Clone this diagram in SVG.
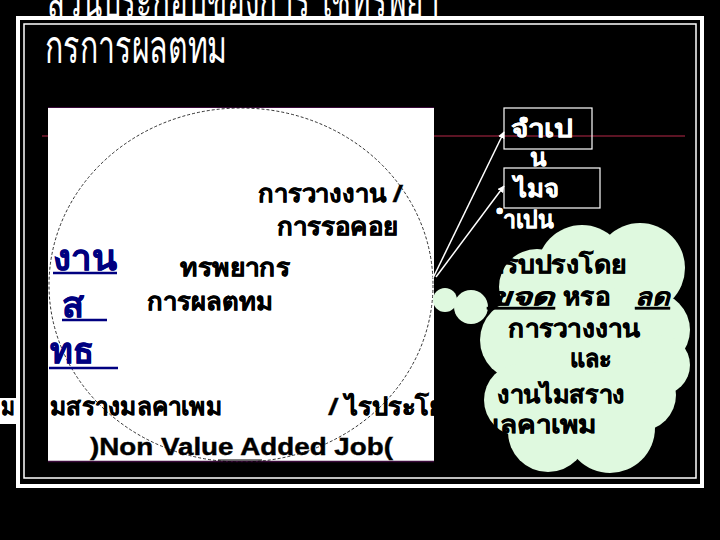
<svg xmlns="http://www.w3.org/2000/svg" width="720" height="540" viewBox="0 0 720 540">
<defs>
<style>
.th{font-family:"Noto Sans","DejaVu Sans",sans-serif;}
.title{fill:#fff;font-size:46px;}
.pan{fill:#000;font-size:24px;font-weight:bold;stroke:#000;stroke-width:0.4;}
.blue{fill:#000080;font-size:36px;font-weight:bold;stroke:#000080;stroke-width:0.6;}
.wt{fill:#fff;font-size:24px;font-weight:bold;stroke:#fff;stroke-width:0.3;}
.cl{fill:#000;font-size:24px;font-weight:bold;stroke:#000;stroke-width:0.4;}
.ul{stroke-width:2.5;}
</style>
<marker id="ah" viewBox="0 0 10 10" refX="9" refY="5" markerWidth="7" markerHeight="7" orient="auto" markerUnits="userSpaceOnUse">
<path d="M0,0 L10,5 L0,10 z" fill="#fff"/>
</marker>
</defs>
<rect width="720" height="540" fill="#000"/>

<g id="title" class="th title">
<text x="47" y="17" textLength="393" lengthAdjust="spacingAndGlyphs">สวนประกอบของการ ใชทรพยา</text>
<text x="45" y="63" textLength="182" lengthAdjust="spacingAndGlyphs">กรการผลตทม</text>
</g>

<line x1="42" y1="136" x2="685" y2="136" stroke="#5c1424" stroke-width="2"/>

<g id="frame" fill="none" stroke="#fff">
<rect x="18" y="18" width="684" height="468" stroke-width="4"/>
<rect x="24" y="24" width="672" height="454" stroke-width="1.5"/>
</g>

<g id="panel">
<rect x="48" y="107" width="386" height="355" fill="#fff"/>
<line x1="48" y1="107.5" x2="434" y2="107.5" stroke="#3a0a3a" stroke-width="1"/>
<line x1="48" y1="461.5" x2="434" y2="461.5" stroke="#3a0a3a" stroke-width="1.5"/>
<ellipse cx="241" cy="285" rx="192" ry="177" fill="none" stroke="#000" stroke-width="0.8" stroke-dasharray="3,2"/>
</g>

<g id="node-wait" class="th pan">
<text x="258" y="202" textLength="145" lengthAdjust="spacingAndGlyphs">การวางงาน /</text>
<text x="277" y="235" textLength="121" lengthAdjust="spacingAndGlyphs">การรอคอย</text>
</g>

<g id="node-resource" class="th pan">
<text x="180" y="276" textLength="110" lengthAdjust="spacingAndGlyphs">ทรพยากร</text>
<text x="147" y="310" textLength="126" lengthAdjust="spacingAndGlyphs">การผลตทม</text>
</g>

<g id="node-blue" class="th blue">
<text x="53" y="270" textLength="64" lengthAdjust="spacingAndGlyphs">งาน</text>
<line x1="53" y1="273" x2="117" y2="273" stroke="#000080" class="ul"/>
<text x="62" y="317" textLength="22" lengthAdjust="spacingAndGlyphs">ส</text>
<line x1="62" y1="320" x2="107" y2="320" stroke="#000080" class="ul"/>
<text x="50" y="363" textLength="44" lengthAdjust="spacingAndGlyphs">ทธ</text>
<line x1="49" y1="368" x2="118" y2="368" stroke="#000080" class="ul"/>
</g>

<g id="node-nonvalue" class="th pan">
<rect x="0" y="398" width="16" height="26" fill="#fff" stroke="none"/>
<text x="1" y="415" textLength="14" lengthAdjust="spacingAndGlyphs">ม</text>
<text x="50" y="415" textLength="172" lengthAdjust="spacingAndGlyphs">มสรางมลคาเพม</text>
<text x="328" y="415" textLength="150" lengthAdjust="spacingAndGlyphs">/ ไรประโยชน</text>
<text x="90" y="455" textLength="303" lengthAdjust="spacingAndGlyphs" font-family="'Liberation Sans',sans-serif">)Non Value Added Job(</text>
<line x1="218" y1="460" x2="262" y2="460" stroke="#000" stroke-width="1"/>
</g>
<rect x="434" y="396" width="50" height="28" fill="#000"/>

<g id="connectors" stroke="#fff" stroke-width="1.5" fill="none">
<line x1="433" y1="278" x2="504" y2="132" marker-end="url(#ah)"/>
<line x1="436" y1="277" x2="504" y2="186" marker-end="url(#ah)"/>
</g>

<g id="node-necessary">
<rect x="504" y="108" width="88" height="41" fill="none" stroke="#fff" stroke-width="1.2"/>
<text class="th wt" x="511" y="137" textLength="62" lengthAdjust="spacingAndGlyphs">จำเป</text>
<text class="th wt" x="530" y="166">น</text>
</g>

<g id="node-unnecessary">
<rect x="504" y="168" width="96" height="40" fill="none" stroke="#fff" stroke-width="1.2"/>
<text class="th wt" x="514" y="197" textLength="45" lengthAdjust="spacingAndGlyphs">ไมจ</text>
<text class="th wt" x="503" y="228" textLength="50" lengthAdjust="spacingAndGlyphs">ำเปน</text>
</g>

<g id="node-cloud">
<g fill="#dff9df">
<circle cx="445" cy="300" r="12"/>
<circle cx="471" cy="307" r="17"/>
<circle cx="537" cy="287" r="38"/>
<circle cx="582" cy="270" r="45"/>
<circle cx="640" cy="268" r="45"/>
<circle cx="652" cy="330" r="38"/>
<circle cx="660" cy="365" r="30"/>
<circle cx="640" cy="395" r="36"/>
<circle cx="520" cy="340" r="40"/>
<circle cx="520" cy="400" r="36"/>
<circle cx="548" cy="432" r="40"/>
<circle cx="610" cy="428" r="45"/>
<circle cx="580" cy="340" r="62"/>
</g>
<g class="th cl">
<text x="487" y="273" textLength="140" lengthAdjust="spacingAndGlyphs">ปรบปรงโดย</text>
<text x="487" y="305" font-style="italic" text-decoration="underline" textLength="68" lengthAdjust="spacingAndGlyphs">ขจด </text>
<text x="563" y="305" textLength="47" lengthAdjust="spacingAndGlyphs">หรอ</text>
<text x="635" y="305" font-style="italic" text-decoration="underline" textLength="35" lengthAdjust="spacingAndGlyphs">ลด</text>
<text x="508" y="337" textLength="132" lengthAdjust="spacingAndGlyphs">การวางงาน</text>
<text x="570" y="367" textLength="42" lengthAdjust="spacingAndGlyphs">และ</text>
<text x="497" y="403" textLength="128" lengthAdjust="spacingAndGlyphs">งานไมสราง</text>
<text x="481" y="433" textLength="116" lengthAdjust="spacingAndGlyphs">มลคาเพม</text>
</g>
</g>
</svg>
